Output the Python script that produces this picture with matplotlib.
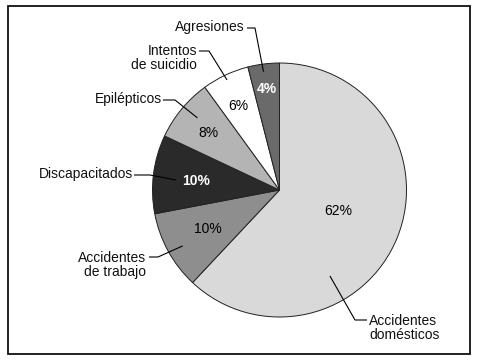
import numpy as np
import matplotlib
matplotlib.use("Agg")
import matplotlib.pyplot as plt
from matplotlib.patches import Rectangle

plt.rcParams['font.family'] = ['Liberation Sans', 'DejaVu Sans']

# ---- data ----
categories = ["Accidentes\ndomésticos", "Accidentes\nde trabajo", "Discapacitados",
              "Epilépticos", "Intentos\nde suicidio", "Agresiones"]
values = [62, 10, 10, 8, 6, 4]
pct_labels = [f"{v}%" for v in values]

# ---- style ----
colors = ["#d9d9d9", "#8e8e8e", "#2a2a2a", "#b4b4b4", "#ffffff", "#6a6a6a"]
pct_colors = ["black", "black", "white", "black", "black", "white"]
pct_weights = ["normal", "normal", "bold", "normal", "normal", "bold"]
pct_radius = [0.49, 0.64, 0.66, 0.72, 0.74, 0.80]
pct_angle_shift = [2.0, -0.2, 1.0, 1.0, 1.0, 0.0]

W, H = 478, 360
CX, CY, R = 279.5, 190.0, 127.0

def P(x, y):
    """pixel (from top-left) -> data units (radius = 1)"""
    return (x - CX) / R, (CY - y) / R

# label layout in pixels
label_pos = [(369, 328), (146, 265), (133, 174), (162, 99.5), (197, 58), (245, 26.5)]
label_ha = ["left", "right", "right", "right", "right", "right"]
leader_start = [(367, 320), (149, 257), (134, 175), (163, 100), (199, 51), (247, 28)]
leader_elbow = [(355, 320), (158, 257), (150, 175), (175, 100), (209, 51), (255, 28)]
leader_angle = [-59.6, -150.0, 174.5, 138.7, 115.5, 97.7]
leader_r = [0.785, 0.88, 0.82, 0.86, 0.96, 0.94]

fig = plt.figure(figsize=(W / 100, H / 100), dpi=100)
ax = fig.add_axes([0, 0, 1, 1])
ax.set_xlim(-CX / R, (W - CX) / R)
ax.set_ylim((CY - H) / R, CY / R)
ax.set_aspect('equal')
ax.axis('off')

wedges, _ = ax.pie(values, colors=colors, startangle=90, counterclock=False,
                   radius=1.0, center=(0, 0), frame=True,
                   wedgeprops=dict(edgecolor="#222222", linewidth=0.7))
ax.set_xlim(-CX / R, (W - CX) / R)
ax.set_ylim((CY - H) / R, CY / R)
ax.axis('off')

for i, w in enumerate(wedges):
    mid = np.deg2rad((w.theta1 + w.theta2) / 2 + pct_angle_shift[i])
    r = pct_radius[i]
    ax.text(r * np.cos(mid), r * np.sin(mid), pct_labels[i], ha='center', va='center',
            fontsize=10, color=pct_colors[i], fontweight=pct_weights[i])
    tx, ty = P(*label_pos[i])
    ax.text(tx, ty, categories[i], ha=label_ha[i], va='center', fontsize=10,
            multialignment=label_ha[i], linespacing=1.05, color='#111111')
    a = np.deg2rad(leader_angle[i])
    ex, ey = leader_r[i] * np.cos(a), leader_r[i] * np.sin(a)
    sx, sy = P(*leader_start[i])
    bx, by = P(*leader_elbow[i])
    ax.plot([sx, bx, ex], [sy, by, ey], color='black', lw=0.8, solid_capstyle='butt')

fig.patches.append(Rectangle((8 / W, (H - 354) / H), 462 / W, 348 / H, transform=fig.transFigure,
                             fill=False, edgecolor='#111111', linewidth=1.3))

fig.savefig("out.png", dpi=100)
